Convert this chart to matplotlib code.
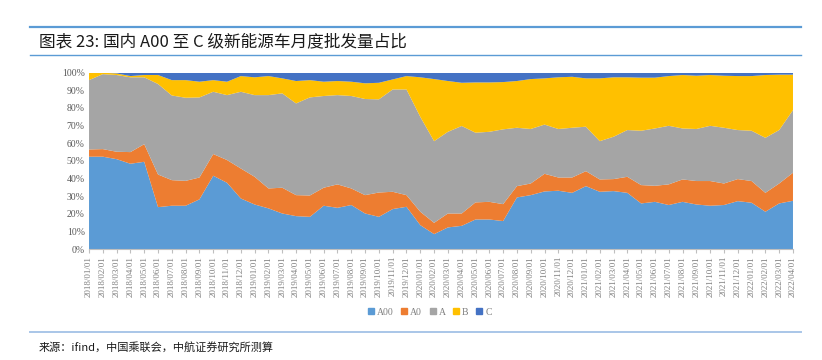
import numpy as np
import matplotlib.pyplot as plt
from matplotlib.lines import Line2D
from matplotlib.patches import Patch

plt.rcParams['font.family'] = ['Noto Sans CJK SC', 'DejaVu Sans']

# 月份 2018/01 - 2022/04
months = [f'{y}/{m:02d}/01' for y in range(2018, 2023) for m in range(1, 13)][:52]

# 各级别占比 (%)
a00 = [52.4, 52.4, 51.0, 48.4, 49.5, 23.8, 24.6, 24.6, 28.2, 41.6, 37.6, 28.7,
       25.3, 23.1, 20.2, 18.7, 18.3, 24.6, 23.4, 25.0, 20.2, 18.3, 22.7, 24.0,
       13.6, 8.5, 12.3, 13.2, 16.8, 16.8, 15.9, 29.3, 30.6, 32.7, 33.1, 31.9,
       35.7, 32.5, 32.9, 31.9, 25.9, 26.8, 25.0, 26.8, 25.3, 24.6, 25.0, 27.2,
       26.3, 21.2, 25.9, 27.4]
a0 = [4.1, 4.3, 4.2, 6.6, 10.0, 18.5, 14.5, 14.1, 12.4, 12.3, 12.9, 17.0,
      15.7, 11.3, 14.6, 11.9, 12.1, 10.2, 13.3, 9.4, 10.4, 13.8, 9.8, 6.6,
      7.6, 6.4, 7.9, 7.0, 9.7, 10.0, 9.6, 6.4, 6.6, 10.0, 7.5, 8.7,
      8.5, 7.0, 6.8, 9.1, 10.4, 9.1, 11.7, 12.7, 13.3, 14.0, 12.2, 12.5,
      12.3, 10.7, 11.3, 15.9]
a = [39.3, 42.5, 43.5, 42.4, 37.9, 51.3, 48.0, 47.1, 45.4, 35.3, 36.8, 43.5,
     46.3, 52.9, 53.5, 52.0, 55.6, 52.0, 50.6, 52.4, 54.5, 52.8, 58.0, 59.9,
     53.8, 46.3, 46.3, 49.6, 39.5, 39.7, 42.4, 33.1, 30.9, 27.9, 27.5, 28.2,
     25.2, 21.7, 24.0, 26.5, 30.8, 32.5, 33.2, 28.9, 29.5, 31.3, 31.6, 27.8,
     28.5, 31.2, 30.3, 35.5]
b = [4.2, 0.8, 0.9, 0.7, 1.3, 5.1, 8.7, 10.0, 8.9, 6.6, 7.6, 8.9,
     10.1, 10.8, 8.5, 12.7, 9.8, 8.1, 8.0, 8.1, 8.9, 9.4, 5.7, 7.6,
     22.4, 35.2, 28.8, 24.5, 28.5, 28.0, 26.8, 26.5, 28.3, 26.2, 29.3, 28.9,
     27.4, 35.6, 33.7, 29.9, 30.1, 28.8, 28.2, 30.3, 30.2, 28.8, 29.5, 30.6,
     31.0, 35.6, 31.4, 20.1]
c = [0.0, 0.0, 0.4, 1.9, 1.3, 1.3, 4.2, 4.2, 5.1, 4.2, 5.1, 1.9,
     2.6, 1.9, 3.2, 4.7, 4.2, 5.1, 4.7, 5.1, 6.0, 5.7, 3.8, 1.9,
     2.6, 3.6, 4.7, 5.7, 5.5, 5.5, 5.3, 4.7, 3.6, 3.2, 2.6, 2.3,
     3.2, 3.2, 2.6, 2.6, 2.8, 2.8, 1.9, 1.3, 1.7, 1.3, 1.7, 1.9,
     1.9, 1.3, 1.1, 1.1]

labels = ['A00', 'A0', 'A', 'B', 'C']
colors = ['#5B9BD5', '#ED7D31', '#A5A5A5', '#FFC000', '#4472C4']

data = np.array([a00, a0, a, b, c])
data = data / data.sum(axis=0) * 100

fig = plt.figure(figsize=(8.22, 3.6), dpi=100)
ax = fig.add_axes([0.1083, 0.308, 0.8564, 0.49])

x = np.arange(len(months))
ax.stackplot(x, data, colors=colors, labels=labels, linewidth=0)

ax.set_xlim(0, len(months) - 1)
ax.set_ylim(0, 100)
ax.set_yticks(np.arange(0, 101, 10))
ax.set_yticklabels([f'{v}%' for v in range(0, 101, 10)],
                   fontfamily='Liberation Serif', fontsize=7, color='#595959')
ax.set_xticks(x)
ax.set_xticklabels(months, rotation=90, fontfamily='Liberation Serif',
                   fontsize=6.5, color='#7f7f7f')
ax.tick_params(axis='y', length=0, pad=3)
ax.tick_params(axis='x', length=3, color='#bfbfbf', pad=2)
for s in ['top', 'right', 'left']:
    ax.spines[s].set_visible(False)
ax.spines['bottom'].set_color('#bfbfbf')

handles = [Patch(color=col, label=lab) for col, lab in zip(colors, labels)]
fig.legend(handles=handles, loc='center', bbox_to_anchor=(0.523, 0.133), ncol=5,
           frameon=False, handlelength=0.6, handleheight=0.6, handletextpad=0.3,
           columnspacing=0.8, prop={'family': 'Liberation Serif', 'size': 7},
           labelcolor='#7f7f7f')

# 标题与来源
fig.add_artist(Line2D([0.036, 0.975], [0.925, 0.925], color='#5B9BD5', lw=1.6))
fig.add_artist(Line2D([0.036, 0.975], [0.848, 0.848], color='#5B9BD5', lw=1.0))
fig.text(0.047, 0.885, '图表 23: 国内 A00 至 C 级新能源车月度批发量占比',
         fontsize=12, va='center', ha='left', color='#1a1a1a')
fig.add_artist(Line2D([0.036, 0.975], [0.078, 0.078], color='#a9c6e8', lw=1.4))
fig.text(0.047, 0.036, '来源：ifind，中国乘联会，中航证券研究所测算',
         fontsize=8, va='center', ha='left', color='#1a1a1a')

fig.savefig('out.png', dpi=100)
